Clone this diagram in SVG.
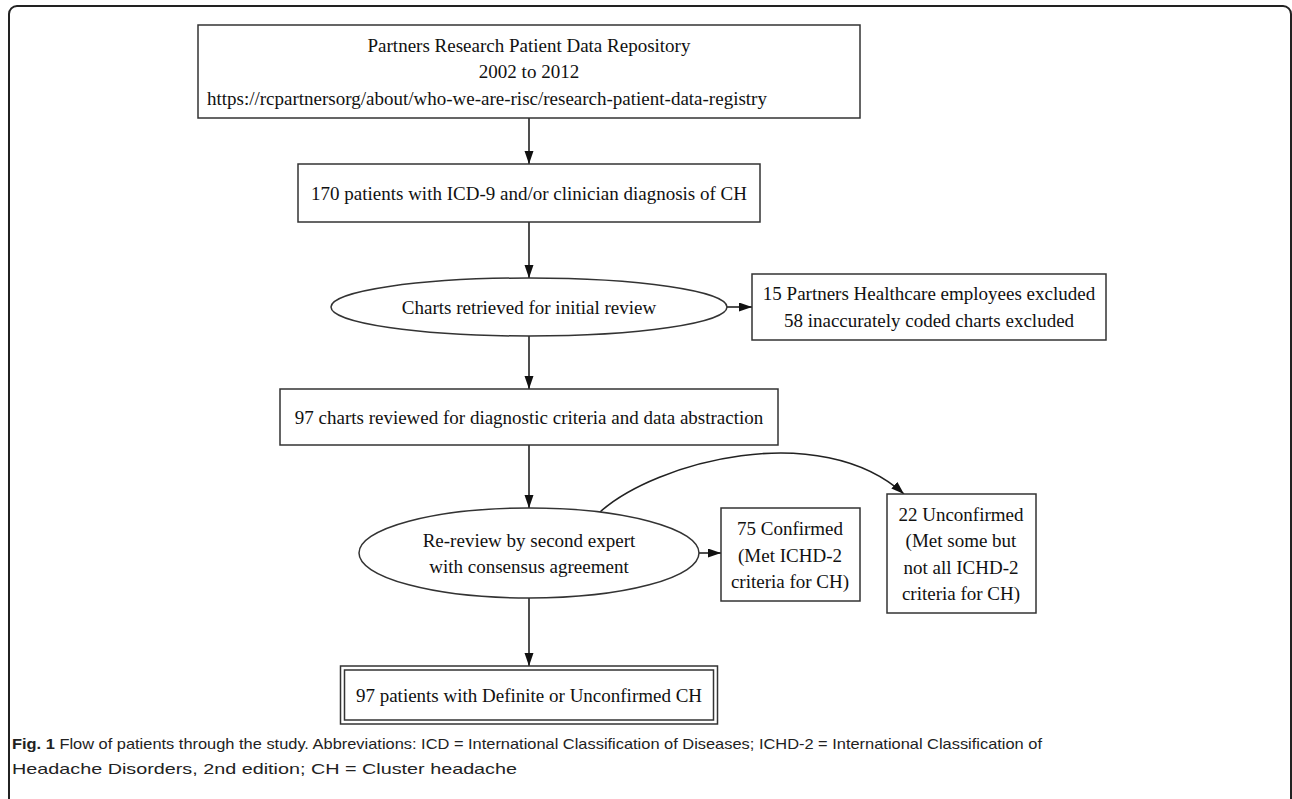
<svg xmlns="http://www.w3.org/2000/svg" width="1292" height="799" viewBox="0 0 1292 799">
<defs>
<marker id="ah" markerUnits="userSpaceOnUse" markerWidth="14" markerHeight="10" refX="13" refY="4.5" orient="auto">
<path d="M0,0 L13,4.5 L0,9 z" fill="#111"/>
</marker>
<style>
.n{fill:#fff;stroke:#333;stroke-width:1.5}
.t{font-family:"Liberation Serif","Times New Roman",serif;font-size:19px;fill:#111;text-anchor:middle}
.c{fill:none;stroke:#222;stroke-width:1.6;marker-end:url(#ah)}
.cap{font-family:"Liberation Sans",Arial,sans-serif;font-size:15px;fill:#222}
</style>
</defs>
<rect width="1292" height="799" fill="#fff"/>
<rect x="9" y="6" width="1282" height="812" rx="8" fill="none" stroke="#222" stroke-width="2"/>
<g id="connectors">
<path class="c" d="M529,118 V164"/>
<path class="c" d="M529,222 V278"/>
<path class="c" d="M727,307 H752"/>
<path class="c" d="M529,336 V389"/>
<path class="c" d="M529,445 V508"/>
<path class="c" d="M699,553 H721"/>
<path class="c" d="M600,512 C655,462 820,418 904,494"/>
<path class="c" d="M529,598 V666"/>
</g>
<g id="n1">
<rect class="n" x="198" y="25" width="662" height="93"/>
<text class="t" x="529" y="52">Partners Research Patient Data Repository</text>
<text class="t" x="529" y="78">2002 to 2012</text>
<text class="t" x="207" y="104.5" style="text-anchor:start">https://rcpartnersorg/about/who-we-are-risc/research-patient-data-registry</text>
</g>
<g id="n2">
<rect class="n" x="298" y="164" width="462" height="58"/>
<text class="t" x="529" y="200">170 patients with ICD-9 and/or clinician diagnosis of CH</text>
</g>
<g id="n3">
<ellipse class="n" cx="529" cy="307" rx="198" ry="29"/>
<text class="t" x="529" y="314">Charts retrieved for initial review</text>
</g>
<g id="n4">
<rect class="n" x="752" y="274" width="354" height="66"/>
<text class="t" x="929" y="300">15 Partners Healthcare employees excluded</text>
<text class="t" x="929" y="327">58 inaccurately coded charts excluded</text>
</g>
<g id="n5">
<rect class="n" x="280" y="389" width="498" height="56"/>
<text class="t" x="529" y="424">97 charts reviewed for diagnostic criteria and data abstraction</text>
</g>
<g id="n6">
<ellipse class="n" cx="529" cy="553" rx="170" ry="45"/>
<text class="t" x="529" y="546.5">Re-review by second expert</text>
<text class="t" x="529" y="573">with consensus agreement</text>
</g>
<g id="n7">
<rect class="n" x="721" y="508" width="139" height="93"/>
<text class="t" x="790" y="535">75 Confirmed</text>
<text class="t" x="790" y="561.5">(Met ICHD-2</text>
<text class="t" x="790" y="588">criteria for CH)</text>
</g>
<g id="n8">
<rect class="n" x="887" y="494" width="149" height="119"/>
<text class="t" x="961" y="520.5">22 Unconfirmed</text>
<text class="t" x="961" y="547">(Met some but</text>
<text class="t" x="961" y="573.5">not all ICHD-2</text>
<text class="t" x="961" y="600">criteria for CH)</text>
</g>
<g id="n9">
<rect class="n" x="340.5" y="666" width="377" height="58"/>
<rect class="n" x="344.5" y="670" width="369" height="50"/>
<text class="t" x="529" y="701.5">97 patients with Definite or Unconfirmed CH</text>
</g>
<g id="caption">
<text class="cap" x="12" y="749" textLength="1030" lengthAdjust="spacingAndGlyphs"><tspan font-weight="bold">Fig. 1</tspan> Flow of patients through the study. Abbreviations: ICD = International Classification of Diseases; ICHD-2 = International Classification of</text>
<text class="cap" x="12" y="774" textLength="505" lengthAdjust="spacingAndGlyphs">Headache Disorders, 2nd edition; CH = Cluster headache</text>
</g>
</svg>
